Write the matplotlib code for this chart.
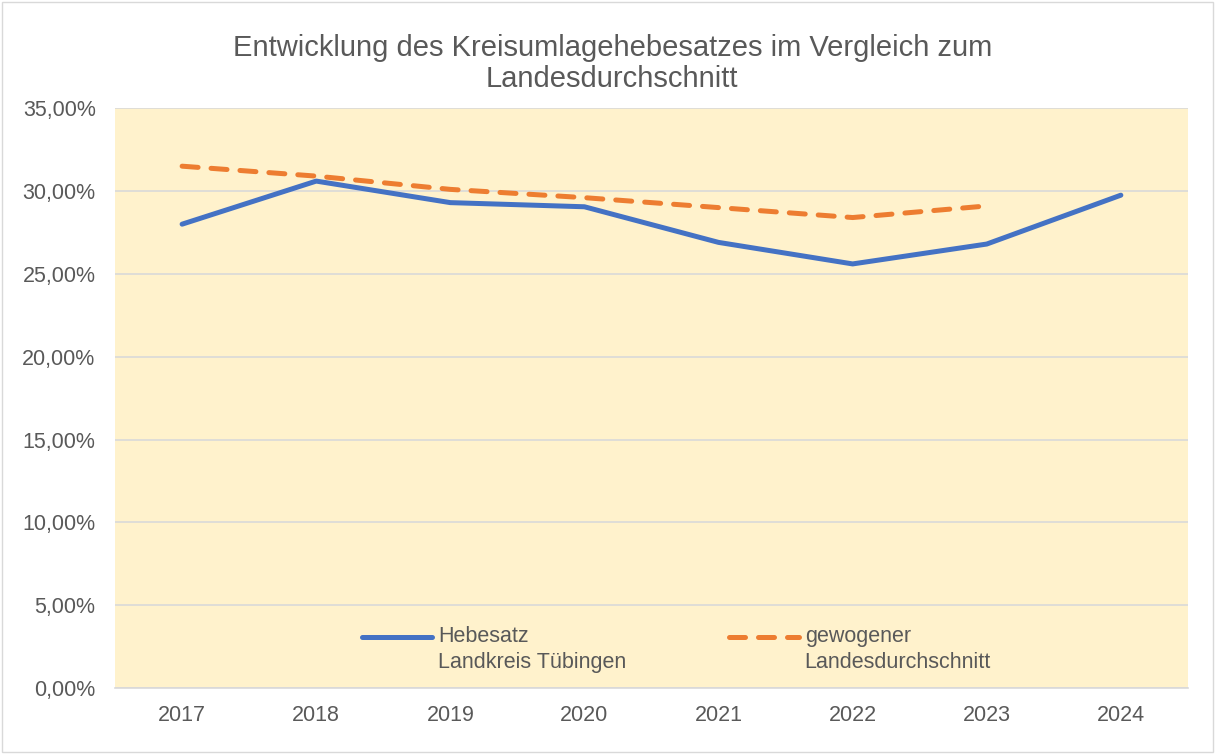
import matplotlib.pyplot as plt
from matplotlib.legend_handler import HandlerLine2D
import numpy as np

plt.rcParams['font.family'] = ['Liberation Sans', 'DejaVu Sans']

### data
years = ["2017", "2018", "2019", "2020", "2021", "2022", "2023", "2024"]
hebesatz = [28.0, 30.6, 29.3, 29.05, 26.9, 25.6, 26.8, 29.75]
landesschnitt = [31.5, 30.9, 30.1, 29.6, 29.0, 28.4, 29.1, np.nan]
yticks = [0, 5, 10, 15, 20, 25, 30, 35]

title = "Entwicklung des Kreisumlagehebesatzes im Vergleich zum\nLandesdurchschnitt"
label_blue = "Hebesatz\nLandkreis Tübingen"
label_orange = "gewogener\nLandesdurchschnitt"

grey = "#595959"
fs = 15.5


### legend handle next to the first text line instead of centred
class TopLineHandler(HandlerLine2D):
    def create_artists(self, legend, orig_handle, xdescent, ydescent,
                       width, height, fontsize, trans):
        arts = super().create_artists(legend, orig_handle, xdescent, ydescent,
                                      width, height, fontsize, trans)
        for a in arts:
            a.set_ydata(np.asarray(a.get_ydata()) + 0.62 * fontsize)
        return arts


fig = plt.figure(figsize=(12.15, 7.54), dpi=100)
ax = fig.add_axes([0.0947, 0.0875, 0.883, 0.769])
ax.set_facecolor("#FFF2CC")

x = np.arange(len(years))
l1, = ax.plot(x, hebesatz, color="#4472C4", lw=3.6, solid_capstyle="round",
              solid_joinstyle="round", label=label_blue, zorder=3)
l2, = ax.plot(x, landesschnitt, color="#ED7D31", lw=3.6, dashes=(3.2, 2.6),
              dash_capstyle="round", label=label_orange, zorder=3)

ax.set_xlim(-0.5, len(years) - 0.5)
ax.set_ylim(0, 35)
ax.set_xticks(x)
ax.set_xticklabels(years)
ax.set_yticks(yticks)
ax.set_yticklabels([f"{v:.2f}%".replace(".", ",") for v in yticks])
ax.grid(axis="y", color="#D9D9D9", lw=1.2)
ax.set_axisbelow(True)
for s in ["top", "right", "left"]:
    ax.spines[s].set_visible(False)
ax.spines["bottom"].set_color("#D9D9D9")
ax.spines["bottom"].set_linewidth(1.2)
ax.tick_params(axis="both", length=0, colors=grey, labelsize=fs)
ax.tick_params(axis="x", pad=12)
ax.tick_params(axis="y", pad=14)

fig.text(0.504, 0.916, title, ha="center", va="center", fontsize=21,
         color=grey, linespacing=1.12)

leg = ax.legend(loc="lower center", bbox_to_anchor=(0.5235, -0.008), ncol=2,
                frameon=False, fontsize=fs, handlelength=3.25,
                columnspacing=4.8, handletextpad=0.25,
                handler_map={l1: TopLineHandler(), l2: TopLineHandler()})
for t in leg.get_texts():
    t.set_color(grey)
    t.set_linespacing(1.35)

# light border around the figure
fig.patches.append(plt.Rectangle((0.002, 0.002), 0.996, 0.996, transform=fig.transFigure,
                                 fill=False, edgecolor="#D9D9D9", lw=1))

plt.savefig("out.png", dpi=100)
plt.close()
